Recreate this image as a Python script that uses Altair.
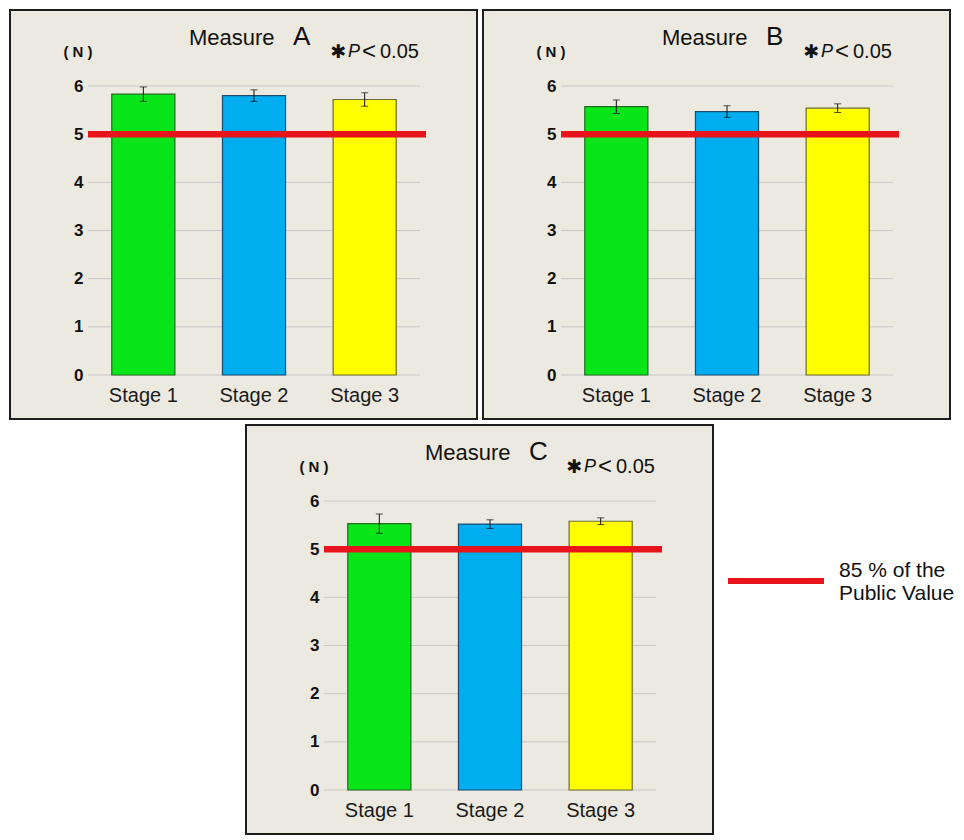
import json
import altair as alt
import pandas as pd

# ---------------- data ----------------
stages = ["Stage 1", "Stage 2", "Stage 3"]
panel_letters = ["A", "B", "C"]
means_a = [5.83, 5.80, 5.72]
errs_a = [0.15, 0.12, 0.14]
means_b = [5.57, 5.47, 5.54]
errs_b = [0.14, 0.12, 0.09]
means_c = [5.53, 5.52, 5.58]
errs_c = [0.20, 0.09, 0.07]
y_ticks = [0, 1, 2, 3, 4, 5, 6]
threshold = 5
legend_lines = ["85 % of the", "Public Value"]
legend_label = " ".join(legend_lines)
title_word = "Measure"
unit_label = "(  N  )"
sig_star = "✱"
sig_p = "P"
sig_lt = "<"
sig_value = "0.05"

# ---------------- style ----------------
fill_colors = ["#08E61A", "#00ADEE", "#FFFF00"]
edge_colors = ["#1E6B1E", "#1B4C70", "#6E6E2A"]
RED = "#E8141C"
BG = "#ECE9E0"
FRAME = "#1E1E1E"
GRID = "#C8C8C8"
W, H = 332, 289
FONT = "Liberation Sans"

x_axis = alt.Axis(title=None, labelFontSize=20, labelPadding=10, ticks=False, domain=False,
                  labelAngle=0, zindex=1, labelColor="#1A1A1A", labelFont=FONT, grid=False)
y_axis = alt.Axis(title=None, values=y_ticks, grid=False, ticks=False, domain=False,
                  labelFontSize=17, labelFontWeight="bold", labelPadding=5, zindex=1,
                  labelColor="#111111", labelFont=FONT)


def panel(letter, means, errs, with_legend=False):
    df = pd.DataFrame({"stage": stages, "value": means, "err": errs})
    df["lo"] = df["value"] - df["err"]
    df["hi"] = df["value"] + df["err"]
    one = pd.DataFrame({"k": [0]})

    xscale = alt.Scale(domain=stages, paddingInner=0.43, paddingOuter=0.215)
    yscale = alt.Scale(domain=[0, 6], nice=False)

    def X():
        return alt.X("stage:N", scale=xscale, sort=stages, axis=x_axis)

    def Y(field):
        return alt.Y(field, scale=yscale, axis=y_axis)

    frame = alt.Chart(one).mark_rect(fill=BG, stroke=FRAME, strokeWidth=2).encode(
        x=alt.value(-78), x2=alt.value(W + 57), y=alt.value(-76), y2=alt.value(H + 44)
    )
    grid = alt.Chart(pd.DataFrame({"tick": y_ticks})).mark_rule(
        color=GRID, strokeWidth=1
    ).encode(y=Y("tick:Q"), x=alt.value(0), x2=alt.value(W))

    bars = alt.Chart(df).mark_bar(strokeWidth=1.2).encode(
        x=X(),
        y=Y("value:Q"),
        fill=alt.Fill("stage:N", scale=alt.Scale(domain=stages, range=fill_colors), legend=None),
        stroke=alt.Stroke("stage:N", scale=alt.Scale(domain=stages, range=edge_colors), legend=None),
    )
    stems = alt.Chart(df).mark_rule(color="#111111", strokeWidth=1).encode(
        x=X(), y=Y("lo:Q"), y2="hi:Q"
    )
    cap_lo = alt.Chart(df).mark_tick(color="#111111", thickness=1, size=7).encode(
        x=X(), y=Y("lo:Q")
    )
    cap_hi = alt.Chart(df).mark_tick(color="#111111", thickness=1, size=7).encode(
        x=X(), y=Y("hi:Q")
    )

    red_df = pd.DataFrame({"label": [legend_label], "v": [threshold]})
    if with_legend:
        color = alt.Color(
            "label:N",
            scale=alt.Scale(domain=[legend_label], range=[RED]),
            legend=alt.Legend(
                title=None, orient="none", legendX=401, legendY=29,
                symbolType="stroke", symbolSize=9216, symbolStrokeWidth=6,
                labelFontSize=21, labelFont=FONT, labelColor="#111111", labelLimit=0,
                labelOffset=12, labelBaseline="bottom", labelExpr=json.dumps(legend_lines),
            ),
        )
    else:
        color = alt.value(RED)
    red = alt.Chart(red_df).mark_rule(strokeWidth=6.5).encode(
        y=Y("v:Q"), x=alt.value(0), x2=alt.value(W + 6), color=color
    )

    def txt(s, x, y, size, align="left", weight="normal", style="normal", font=FONT):
        return alt.Chart(one).mark_text(
            align=align, baseline="middle", fontSize=size, fontWeight=weight,
            fontStyle=style, font=font, color="#111111"
        ).encode(x=alt.value(x), y=alt.value(y), text=alt.value(s))

    texts = [
        txt(title_word, 101, -48, 22),
        txt(letter, 205, -49, 26),
        txt(unit_label, -10, -34, 15, align="center", weight="bold"),
        txt(sig_star, 250.5, -34, 19, align="center", font="DejaVu Sans"),
        txt(sig_p, 260, -34, 18, style="italic"),
        txt(sig_lt, 274, -34, 24),
        txt(sig_value, 292, -34, 20),
    ]

    return alt.layer(frame, grid, bars, stems, cap_lo, cap_hi, red, *texts).properties(
        width=W, height=H
    )


pa = panel(panel_letters[0], means_a, errs_a)
pb = panel(panel_letters[1], means_b, errs_b)
pc = panel(panel_letters[2], means_c, errs_c, with_legend=True)

SPACER_W = 146
spacer = alt.Chart(pd.DataFrame({"k": [0]})).mark_rect(fill="white", opacity=0).encode(
    x=alt.value(0), x2=alt.value(SPACER_W), y=alt.value(0), y2=alt.value(1)
).properties(
    width=SPACER_W, height=1,
    view=alt.ViewBackground(stroke="transparent", fill="transparent", strokeWidth=0),
)

row1 = alt.hconcat(pa, pb, spacing=2)
row2 = alt.hconcat(spacer, pc, spacing=10).resolve_scale(color="independent")

chart = alt.vconcat(row1, row2, spacing=2).resolve_scale(color="independent").properties(
    padding=0, background="white"
).configure_view(stroke="transparent", strokeWidth=0, fill="transparent").configure(font=FONT)

chart.save("out.html", embed_options={"renderer": "svg", "actions": False})
